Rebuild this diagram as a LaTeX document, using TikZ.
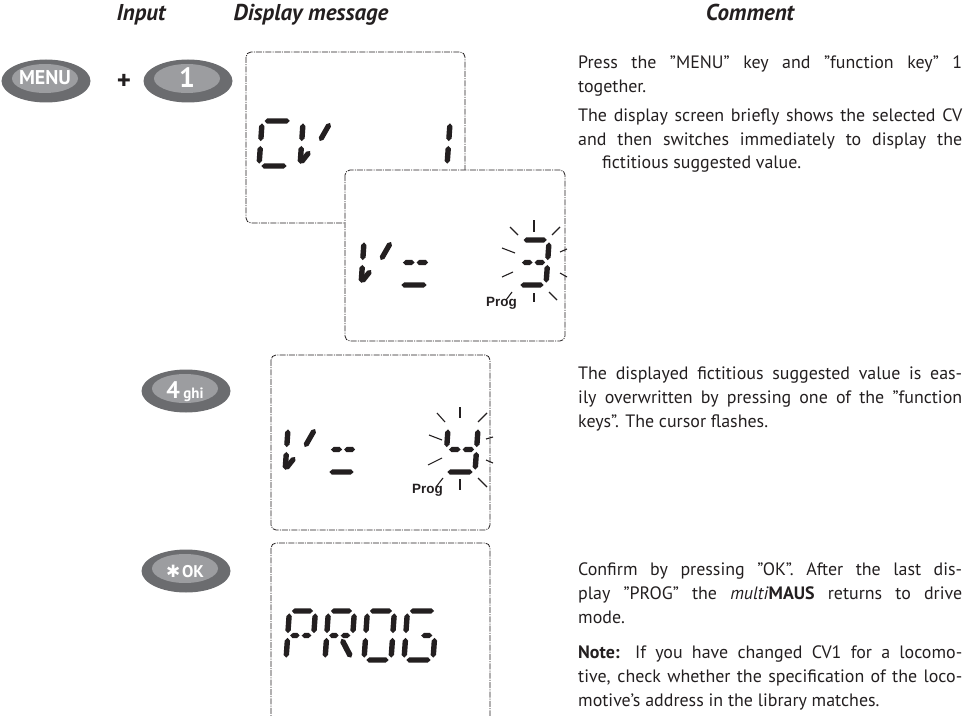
\documentclass[tikz,border=0pt]{standalone}
\usepackage{fontspec}
\setmainfont{PT Sans}
\newfontfamily\helvfont{Liberation Sans}
\newfontfamily\symfont{DejaVu Sans}
\definecolor{btndark}{HTML}{6B6C6F}
\definecolor{btnlight}{HTML}{9C9DA0}
\definecolor{ink}{HTML}{231F20}
\newcommand\segT{2.7}
\newcommand\segG{2.4}
\newcommand\colw{384bp}
\newcommand\tseg[4]{%
  \pgfmathsetmacro\tsdx{(#3)-(#1)}%
  \pgfmathsetmacro\tsdy{(#4)-(#2)}%
  \pgfmathsetmacro\tslen{max(sqrt((\tsdx)*(\tsdx)+(\tsdy)*(\tsdy)),0.01)}%
  \pgfmathsetmacro\tsux{\segT*(\tsdx)/\tslen}%
  \pgfmathsetmacro\tsuy{\segT*(\tsdy)/\tslen}%
  \fill[ink] (#1,#2) -- ({#1+(\tsux)-(\tsuy)},{#2+(\tsuy)+(\tsux)}) -- ({#3-(\tsux)-(\tsuy)},{#4-(\tsuy)+(\tsux)}) -- (#3,#4) -- ({#3-(\tsux)+(\tsuy)},{#4-(\tsuy)-(\tsux)}) -- ({#1+(\tsux)+(\tsuy)},{#2+(\tsuy)-(\tsux)}) -- cycle;}
\newcommand\lcdsega{\tseg{\segG}{-\dH}{\dW-\segG}{-\dH}}
\newcommand\lcdsegb{\tseg{\dW}{-\dH+\segG}{\dW}{-\dH/2-\segG}}
\newcommand\lcdsegc{\tseg{\dW}{-\dH/2+\segG}{\dW}{-\segG}}
\newcommand\lcdsegd{\tseg{\segG}{0}{\dW-\segG}{0}}
\newcommand\lcdsege{\tseg{0}{-\dH/2+\segG}{0}{-\segG}}
\newcommand\lcdsegf{\tseg{0}{-\dH+\segG}{0}{-\dH/2-\segG}}
\newcommand\lcdsegg{\tseg{\segG}{-\dH/2}{\dW-\segG}{-\dH/2}}
\newcommand\lcdsegh{\tseg{\segG}{-\dH/2}{\dW/2-1}{-\dH/2}}
\newcommand\lcdsegi{\tseg{\dW/2+1}{-\dH/2}{\dW-\segG}{-\dH/2}}
\newcommand\lcdsegj{\tseg{\dW/2+2}{-\dH/2+\segG+1}{\dW}{-\segG}}
\newcommand\lcdsegv{\tseg{0}{-\segG}{9}{-15}}
\newcommand\lcdsegs{\tseg{18}{-25}{27}{-43}}
\newcommand\sevseg[5]{%
  \begin{scope}[shift={(#1,#2)}, xslant=0.07]
    \def\dW{#3}\def\dH{#4}%
    \foreach \s in {#5} {\csname lcdseg\s\endcsname}
  \end{scope}}
\begin{document}
\begin{tikzpicture}[x=1bp,y=-1bp,
  lcdbox/.style={draw=ink, line width=0.8bp, dash pattern=on 6bp off 1.2bp on 1bp off 1.2bp, rounded corners=5bp, fill=white},
  ray/.style={draw=ink, line width=1.1bp},
  hdr/.style={anchor=base, inner sep=0pt, text=ink, font=\fontsize{23}{24}\selectfont\bfseries\itshape},
  cl/.style={anchor=base west, inner sep=0pt, text=ink, font=\fontsize{18}{24}\selectfont},
  keytext/.style={anchor=base, inner sep=0pt, text=white, font=\bfseries},
  progtext/.style={anchor=base, inner sep=0pt, text=ink, font=\helvfont\bfseries\fontsize{13.5}{14}\selectfont},
  pics/keycap/.style={code={
    \fill[btndark] (0,0) ellipse [x radius=44.5bp, y radius=21.5bp];
    \fill[btnlight] (-1,-2.5) ellipse [x radius=33bp, y radius=14.5bp];}}]
\useasboundingbox (0,0) rectangle (966,716);

% headers
\node[hdr] (hin) at (141,21) {Input};
\node[hdr] (hdisp) at (311,21) {Display message};
\node[hdr] (hcom) at (750,21) {Comment};

% input keys
\pic at (46,81) {keycap};
\node[keytext, font=\bfseries\fontsize{20}{20}\selectfont] (kmenu) at (45,85) {MENU};
\node[text=ink, inner sep=0pt, font=\bfseries\fontsize{27}{27}\selectfont] (plus) at (124,82) {+};
\pic at (188,81) {keycap};
\node[keytext, font=\bfseries\fontsize{28}{28}\selectfont] (kone) at (187,88) {1};
\pic at (186,391) {keycap};
\node[keytext] (kfour) at (185,398) {{\fontsize{24}{24}\selectfont 4}\,\,{\fontsize{15}{15}\selectfont ghi}};
\pic at (186,571) {keycap};
\node[keytext] (kok) at (185,577) {{\symfont\fontsize{17}{17}\selectfont ✱}\,{\fontsize{17}{17}\selectfont OK}};

% display 1
\draw[lcdbox] (246,52) rectangle (465,223);
\sevseg{259}{166}{30}{45}{a,d,e,f}
\sevseg{300}{166}{29}{45}{f,e,v,s}
\sevseg{419}{166}{28}{45}{b,c}

% display 2
\draw[lcdbox] (345,170) rectangle (565,341);
\sevseg{361}{285}{29}{45}{f,e,v,s}
\sevseg{399}{285}{30}{45}{h,i,d}
\sevseg{518}{285}{28}{45}{a,b,c,d,h,i}
\foreach \ax/\ay/\bx/\by in {534/220/534/232, 510/227/518/235, 560/227/552/235,
  502/248/515/253, 560/252/567/249, 502/277/513/272, 560/273/567/277,
  534/293/534/302, 512/292/506/300, 549/292/557/300}
  \draw[ray] (\ax,\ay) -- (\bx,\by);
\node[progtext] (prog2) at (501.5,306) {Prog};

% display 3
\draw[lcdbox] (271,355) rectangle (490,530);
\sevseg{285}{472}{29}{45}{f,e,v,s}
\sevseg{327}{472}{29}{45}{h,i,d}
\sevseg{445}{472}{30}{45}{f,h,i,b,c,d}
\foreach \ax/\ay/\bx/\by in {460/407/460/418, 437/413/445/422, 487/413/478/422,
  429/435/442/440, 486/439/493/437, 428/465/442/458, 486/460/493/463,
  460/479/460/490, 443/478/436/487, 478/478/487/487}
  \draw[ray] (\ax,\ay) -- (\bx,\by);
\node[progtext] (prog3) at (427.5,493) {Prog};

% display 4
\begin{scope}
  \clip (0,0) rectangle (966,716);
  \draw[lcdbox] (271,543) rectangle (490,760);
\end{scope}
\sevseg{286}{660}{26}{49}{a,b,f,e,h,i}
\sevseg{325}{660}{26}{49}{a,b,f,e,h,i,j}
\sevseg{364}{660}{27}{49}{a,b,c,d,e,f}
\sevseg{404}{660}{29}{49}{a,f,e,d,c,i}

% comments
\node[cl] (t1) at (578,69) {\makebox[\colw][s]{Press the ”MENU” key and ”function key” 1}};
\node[cl] (t2) at (578,93) {together.};
\node[cl] (t3) at (578,122) {\makebox[\colw][s]{The display screen briefly shows the selected CV}};
\node[cl] (t4) at (578,146) {\makebox[\colw][s]{and then switches immediately to display the}};
\node[cl] (t5) at (602,169) {fictitious suggested value.};
\node[cl] (t6) at (578,379) {\makebox[\colw][s]{The displayed fictitious suggested value is eas-}};
\node[cl] (t7) at (578,403) {\makebox[\colw][s]{ily overwritten by pressing one of the ”function}};
\node[cl] (t8) at (578,427) {keys”. The cursor flashes.};
\node[cl] (t9) at (578,575) {\makebox[\colw][s]{Confirm by pressing ”OK”. After the last dis-}};
\node[cl] (t10) at (578,599) {\makebox[\colw][s]{play ”PROG” the \textit{multi}\textbf{MAUS} returns to drive}};
\node[cl] (t11) at (578,623) {mode.};
\node[cl] (t12) at (578,658) {\makebox[\colw][s]{\textbf{Note:} If you have changed CV1 for a locomo-}};
\node[cl] (t13) at (578,682) {\makebox[\colw][s]{tive, check whether the specification of the loco-}};
\node[cl] (t14) at (578,706) {motive’s address in the library matches.};
\end{tikzpicture}
\end{document}
